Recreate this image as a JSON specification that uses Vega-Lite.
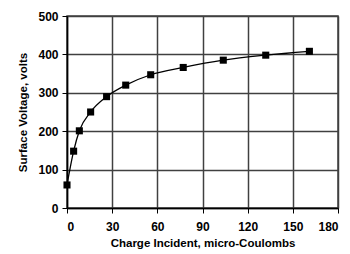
{
  "$schema": "https://vega.github.io/schema/vega-lite/v6.json",
  "width": 271,
  "height": 192,
  "autosize": {"type": "none"},
  "padding": {"left": 67, "top": 16, "right": 12, "bottom": 46},
  "background": "white",
  "config": {
    "font": "Liberation Sans",
    "view": {"stroke": "#404040", "strokeWidth": 1.5},
    "axis": {
      "labelFont": "Liberation Sans",
      "labelFontWeight": "bold",
      "labelFontSize": 12,
      "labelColor": "black",
      "titleFont": "Liberation Sans",
      "titleFontWeight": "bold",
      "titleFontSize": 11.5,
      "titleColor": "black",
      "domainColor": "black",
      "domainWidth": 1.5,
      "tickColor": "black",
      "tickSize": 5,
      "labelOverlap": false
    }
  },
  "data": {
    "values": [
      {"q": 0, "v": 60},
      {"q": 4.4, "v": 148},
      {"q": 8.2, "v": 201},
      {"q": 15.7, "v": 250},
      {"q": 26.3, "v": 290},
      {"q": 39, "v": 320},
      {"q": 55.6, "v": 347},
      {"q": 77.2, "v": 366},
      {"q": 103.8, "v": 385},
      {"q": 132, "v": 398},
      {"q": 161, "v": 408}
    ]
  },
  "encoding": {
    "x": {
      "field": "q",
      "type": "quantitative",
      "scale": {"domain": [0, 180], "nice": false},
      "axis": {"grid": true, "gridColor": "#404040", "gridWidth": 1.5, "gridOpacity": 1, "values": [0, 30, 60, 90, 120, 150, 180], "title": "Charge Incident, micro-Coulombs", "labelPadding": 8, "titlePadding": 5}
    },
    "y": {
      "field": "v",
      "type": "quantitative",
      "scale": {"domain": [0, 500], "nice": false},
      "axis": {"grid": true, "gridColor": "#404040", "gridWidth": 1.5, "gridOpacity": 1, "values": [0, 100, 200, 300, 400, 500], "title": "Surface Voltage, volts", "labelPadding": 4, "titlePadding": 9}
    }
  },
  "layer": [
    {"mark": {"type": "line", "color": "black", "strokeWidth": 1.3, "interpolate": "monotone"}},
    {"mark": {"type": "point", "shape": "square", "filled": true, "color": "black", "opacity": 1, "size": 50}}
  ]
}
